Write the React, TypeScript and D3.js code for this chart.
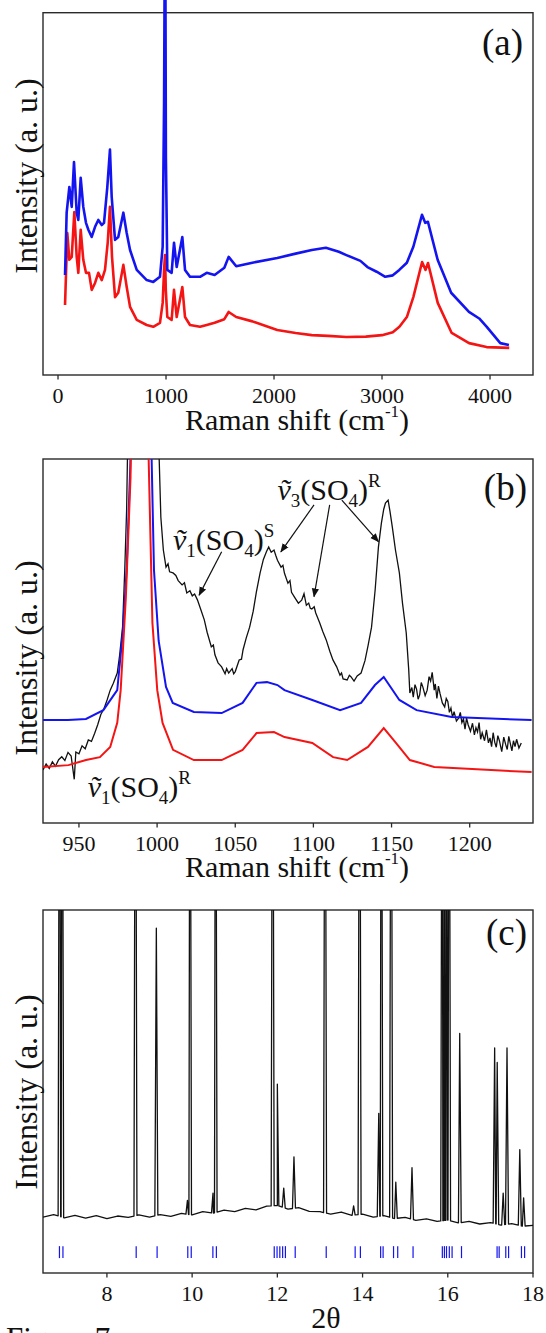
import React from 'react';
import * as d3 from 'd3';

const W = 546;
const H = 1333;
const FONT = 'Liberation Serif';

// ---------- panel (a): full Raman spectra [cm-1, intensity] ----------
const ramanTicksA = [0, 1000, 2000, 3000, 4000];

const ramanBlue: [number, number][] = [
  [65, 27.6], [80, 44.8], [105, 51.9], [127, 46.4], [148, 58.8], [173, 44.8], [188, 42.8],
  [210, 54.4], [234, 46.4], [259, 42.0], [281, 40.1], [312, 38.1], [343, 40.9], [373, 42.8],
  [405, 41.4], [426, 42.0], [456, 51.7], [481, 62.2], [497, 49.2], [528, 37.3], [558, 38.1],
  [605, 44.8], [636, 39.2], [667, 34.5], [729, 29.0], [821, 26.2], [882, 25.7], [944, 27.1],
  [969, 35.4], [982, 75], [988, 115], [994, 115], [999, 60], [1012, 29.0], [1052, 28.2],
  [1074, 36.5], [1099, 29.8], [1151, 38.1], [1176, 29.0], [1222, 27.1], [1315, 27.1],
  [1377, 28.2], [1450, 27.6], [1540, 29.6], [1580, 32.6], [1650, 30.0], [1800, 31.0],
  [2030, 32.3], [2200, 33.5], [2350, 34.5], [2480, 35.1], [2600, 34.0], [2670, 33.1],
  [2800, 31.5], [2865, 29.8], [2950, 28.5], [3030, 27.1], [3100, 27.5], [3160, 29.0],
  [3230, 31.0], [3290, 35.4], [3370, 44.2], [3400, 42.0], [3425, 42.3], [3515, 31.8],
  [3640, 22.7], [3805, 17.4], [3900, 15.6], [3970, 13.3], [4095, 8.8], [4175, 8.3],
];

const ramanRed: [number, number][] = [
  [65, 19.3], [86, 39.2], [105, 31.8], [127, 32.6], [151, 45.0], [173, 32.6], [188, 28.2],
  [210, 40.1], [234, 31.8], [259, 28.2], [287, 28.2], [312, 23.5], [343, 25.4], [373, 28.2],
  [405, 26.2], [435, 29.0], [460, 36.5], [481, 46.4], [500, 32.6], [528, 21.5], [558, 22.7],
  [605, 30.4], [636, 24.3], [667, 18.8], [729, 15.2], [821, 13.8], [882, 13.3], [944, 14.4],
  [969, 19.9], [982, 29], [991, 33.1], [998, 23.5], [1012, 16.0], [1052, 15.2], [1074, 23.5],
  [1099, 16.0], [1151, 24.3], [1176, 16.0], [1222, 13.8], [1315, 13.3], [1377, 13.8],
  [1450, 14.4], [1540, 15.4], [1580, 17.4], [1650, 16.0], [1800, 14.8], [2030, 12.4],
  [2200, 11.6], [2350, 11.0], [2500, 10.8], [2670, 10.5], [2850, 10.6], [3000, 11.0],
  [3100, 11.8], [3161, 13.3], [3230, 16.0], [3290, 21.5], [3371, 31.2], [3403, 29.0],
  [3426, 30.9], [3516, 19.9], [3645, 11.6], [3806, 8.8], [3968, 7.7], [4178, 7.5],
];

// ---------- panel (b): sulfate region ----------
const ramanTicksB = [950, 1000, 1050, 1100, 1150, 1200];

const zoomBlue: [number, number][] = [
  [926.8, 28.3], [943, 28.3], [954.5, 28.6], [965.6, 31.0], [974.5, 36.5], [978, 52],
  [980.5, 69.5], [983, 100], [987, 200], [990, 250], [993, 200], [996.5, 100], [998, 69.5],
  [1001, 50], [1005.7, 37.4], [1010, 33.0], [1023.5, 30.5], [1041.3, 30.2], [1054.7, 33.0],
  [1063.6, 38.5], [1070.3, 38.7], [1077, 37.9], [1081.5, 36.5], [1099.3, 33.8], [1117.1, 31.0],
  [1130.5, 33.0], [1139.4, 37.9], [1145, 40.1], [1155, 33.8], [1166, 31.0], [1188.4, 29.1],
  [1239.6, 28.3],
];

const zoomRed: [number, number][] = [
  [926.8, 15.4], [943.3, 15.9], [954.5, 17.3], [963.4, 18.1], [970, 20.9], [974.5, 27.5],
  [976.7, 36.5], [980, 62], [983, 95], [986, 200], [989, 250], [992, 200], [994.6, 100],
  [997, 55], [1000.1, 36.5], [1003.5, 27.5], [1010.2, 20.1], [1023.5, 17.3], [1041.3, 17.3],
  [1054.7, 20.1], [1063.6, 24.7], [1074.8, 25.0], [1081.5, 23.6], [1099.3, 22.0],
  [1112.6, 18.1], [1121.6, 17.3], [1134.9, 20.9], [1145, 26.1], [1152.8, 22.0],
  [1161.7, 17.3], [1177.3, 15.4], [1210.7, 14.6], [1239.6, 14.0],
];

const zoomBlack: [number, number][] = [
  [927, 14.6], [929, 16.2], [931, 15.0], [933, 16.8], [935, 15.6], [937, 17.4], [939, 18.2],
  [941, 17.2], [943, 19.4], [945, 18.4], [947, 12.0], [948, 19.5], [950, 19.0], [952, 21.2],
  [954, 20.4], [956, 22.8], [958, 22.4], [960, 24.6], [962, 27.0], [964, 29.8], [966, 31.4],
  [968, 33.8], [970, 36.5], [972, 38.4], [974.5, 41.2], [976, 46.0], [977.9, 53.8],
  [979.3, 69.5], [980.5, 86], [981.4, 110], [983, 160], [985, 220], [990, 260], [995, 220],
  [999, 160], [1001, 105], [1002.4, 84], [1004, 75], [1005.7, 70.3], [1007, 71.2], [1008, 69.0],
  [1010.2, 68.7], [1012, 68.0], [1013.5, 66.6], [1016, 65.4], [1017.5, 66.0], [1019, 63.2],
  [1021, 63.8], [1022.5, 62.4], [1024, 62.9], [1025.8, 61.3], [1028, 58.6], [1030.2, 55.8],
  [1032, 52.4], [1034.7, 48.4], [1036, 48.9], [1037, 46.2], [1039, 44.0], [1041.3, 42.9],
  [1043.5, 41.0], [1044.5, 42.4], [1045.8, 41.2], [1048, 42.4], [1049, 41.0], [1050, 41.6],
  [1052.5, 44.8], [1054, 45.0], [1055, 47.6], [1057, 50.8], [1059.2, 53.8], [1061.5, 58.2],
  [1063.5, 63.4], [1065.9, 68.7], [1068, 72.4], [1070, 74.6], [1071.4, 75.8], [1073, 74.4],
  [1074.8, 75.0], [1076, 73.4], [1077, 72.2], [1079.3, 70.3], [1080.5, 70.8], [1081.5, 68.6],
  [1083.7, 65.9], [1085, 66.6], [1086, 63.4], [1088, 62.0], [1090.4, 60.4], [1092.5, 61.2],
  [1094, 63.0], [1095.5, 59.8], [1097, 60.4], [1098, 59.0], [1099, 58.8], [1100.5, 59.4],
  [1101.5, 57.7], [1104, 55.0], [1106, 52.6], [1108.2, 50.3], [1110.5, 47.2], [1112.5, 44.8],
  [1114.9, 42.9], [1117, 40.6], [1118, 41.2], [1119, 39.6], [1121.6, 39.3], [1123, 40.6],
  [1124, 40.2], [1126, 39.0], [1128, 40.4], [1130.5, 41.2], [1133, 44.6], [1135, 48.8],
  [1137.2, 53.8], [1139.5, 64.0], [1141.6, 75.8], [1143.5, 82.4], [1145, 86.2], [1146.1, 87.9],
  [1147.8, 88.7], [1149, 85.6], [1150.5, 81.3], [1152.5, 75.0], [1155, 68.7], [1157, 60.4],
  [1159.4, 52.2], [1161, 42.0], [1161.7, 35.7], [1163, 37.2], [1163.9, 34.6], [1165, 38.0],
  [1166, 36.8], [1167, 34.0], [1168, 35.2], [1169, 38.6], [1170, 37.4], [1171.5, 35.0],
  [1172.8, 36.5], [1174, 40.2], [1175, 39.0], [1176, 41.4], [1177.3, 36.5], [1178, 38.2],
  [1179, 34.2], [1180, 37.6], [1181, 35.6], [1182.5, 33.0], [1184, 31.9], [1185, 34.2],
  [1186, 33.4], [1187, 30.4], [1188, 31.6], [1189, 29.0], [1190, 30.6], [1191.5, 28.0],
  [1192.9, 28.8], [1194, 30.4], [1195, 27.6], [1196, 28.6], [1197, 25.8], [1198, 28.8],
  [1199, 27.0], [1200.5, 25.2], [1201.8, 27.4], [1203, 24.2], [1204, 26.2], [1205, 25.0],
  [1206, 27.6], [1207, 23.0], [1208, 24.8], [1209.5, 22.6], [1210.7, 25.6], [1212, 22.0],
  [1213, 23.4], [1214, 21.0], [1215, 24.8], [1216, 22.2], [1217, 20.8], [1218, 24.0],
  [1219, 22.6], [1220.5, 19.6], [1221.8, 23.6], [1223, 21.6], [1224, 20.2], [1225, 23.8],
  [1226, 21.8], [1227, 19.8], [1228, 22.6], [1229, 21.0], [1230, 23.0], [1231.5, 20.6],
  [1233, 22.0],
];

// annotation arrows [from cm, from I, to cm, to I]
const arrowsB: [number, number, number, number][] = [
  [1041.3, 74.5, 1026.9, 62.6],
  [1100.4, 87.4, 1079.2, 74.5],
  [1110.4, 87.4, 1100.4, 62.2],
  [1118.2, 88.7, 1141.6, 77.3],
];
// labels [cm, I, mode number, site letter]
const labelsB: [number, number, string, string][] = [
  [1010.2, 75.0, '1', 'S'],
  [1077, 88.7, '3', 'R'],
  [955.6, 7.2, '1', 'R'],
];

// ---------- panel (c): XRD ----------
const thetaTicks = [8, 10, 12, 14, 16, 18];

const xrdBase: [number, number][] = [
  [6.5, 15.4], [6.75, 16.1], [7.0, 15.2], [7.25, 15.9], [7.5, 15.1], [7.75, 15.8], [8.0, 15.0],
  [8.25, 15.7], [8.5, 15.3], [8.75, 16.0], [9.0, 15.4], [9.25, 16.1], [9.5, 15.6], [9.75, 16.4],
  [10.0, 16.0], [10.25, 16.9], [10.5, 16.5], [10.75, 17.3], [11.0, 16.9], [11.25, 17.8],
  [11.5, 17.4], [11.75, 18.4], [12.0, 18.6], [12.25, 17.6], [12.5, 18.0], [12.75, 17.0],
  [13.0, 16.9], [13.25, 16.2], [13.5, 16.8], [13.75, 15.9], [14.0, 16.2], [14.25, 15.4],
  [14.5, 15.8], [14.75, 15.0], [15.0, 15.3], [15.25, 14.5], [15.5, 14.9], [15.75, 14.2],
  [16.0, 14.6], [16.25, 13.8], [16.5, 14.2], [16.75, 13.5], [17.0, 13.9], [17.25, 13.2],
  [17.5, 13.6], [17.75, 12.9], [18.0, 13.1],
];

// [2theta, peak intensity]; values above 100 run off the top of the frame
const xrdPeaks: [number, number][] = [
  [6.89, 200], [6.95, 200], [8.67, 200], [9.16, 95], [9.89, 20], [9.95, 200], [10.49, 22],
  [10.55, 200], [11.89, 200], [12.0, 52], [12.15, 23.4], [12.39, 32], [13.12, 200],
  [13.79, 18.5], [13.93, 200], [14.38, 44], [14.44, 200], [14.67, 200], [14.78, 25],
  [15.16, 29], [15.87, 200], [15.92, 200], [15.97, 200], [16.03, 200], [16.28, 66],
  [17.1, 62], [17.16, 58], [17.3, 22], [17.39, 62], [17.69, 34], [17.78, 20.7],
];

const braggPos = [
  6.886, 6.968, 8.687, 9.178, 9.898, 9.979, 10.487, 10.569, 11.927, 11.993, 12.058, 12.124,
  12.189, 12.419, 13.147, 13.826, 13.949, 14.424, 14.482, 14.727, 14.825, 15.185, 15.872,
  15.921, 15.97, 16.036, 16.101, 16.322, 17.157, 17.206, 17.361, 17.427, 17.729, 17.803,
];

const L = 43;
const R = 533;

const xA = d3.scaleLinear().domain([-139, 4398]).range([L, R]);
const yA = d3.scaleLinear().domain([0, 100]).range([375, 12.7]);
const xB = d3.scaleLinear().domain([927, 1240.5]).range([L, R]);
const yB = d3.scaleLinear().domain([0, 100]).range([823, 459]);
const xC = d3.scaleLinear().domain([6.5, 18.0]).range([L, R]);
const yC = d3.scaleLinear().domain([0, 100]).range([1273, 910]);

const BLUE = '#1414f0';
const RED = '#f51414';
const INK = '#111';

function Frame({ top, bottom, ticks, x }: { top: number; bottom: number; ticks: number[]; x: d3.ScaleLinear<number, number> }) {
  return (
    <g>
      <rect x={L} y={top} width={R - L} height={bottom - top} fill="none" stroke="#2a2a2a" strokeWidth={1.4} />
      {ticks.map(t => (
        <g key={t}>
          <line x1={x(t)} x2={x(t)} y1={bottom} y2={bottom + 4.5} stroke="#2a2a2a" strokeWidth={1.3} />
          <text x={x(t)} y={bottom + 28} textAnchor="middle" fontSize={22} fontFamily={FONT} fill={INK}>{t}</text>
        </g>
      ))}
    </g>
  );
}

function YLabel({ cy }: { cy: number }) {
  return (
    <text transform={`translate(37,${cy}) rotate(-90)`} textAnchor="middle" fontSize={32} fontFamily={FONT} fill={INK}>
      Intensity (a. u.)
    </text>
  );
}

function RamanLabel({ y }: { y: number }) {
  return (
    <text x={297} y={y} textAnchor="middle" fontSize={30} fontFamily={FONT} fill={INK}>
      Raman shift (cm<tspan fontSize={17} dy={-13}>-1</tspan><tspan dy={13}>)</tspan>
    </text>
  );
}

function ModeLabel({ x, y, n, site }: { x: number; y: number; n: string; site: string }) {
  return (
    <text x={x} y={y} fontSize={30} fontFamily={FONT} fill={INK}>
      <tspan fontStyle="italic">{'\u1E7D'}</tspan>
      <tspan fontSize={19} dy={7}>{n}</tspan>
      <tspan dy={-7}>(SO</tspan>
      <tspan fontSize={19} dy={7}>4</tspan>
      <tspan dy={-7}>)</tspan>
      <tspan fontSize={19} dy={-13}>{site}</tspan>
    </text>
  );
}

export default function App() {
  const lineA = d3.line<[number, number]>().x(d => xA(d[0])).y(d => yA(d[1]));
  const lineB = d3.line<[number, number]>().x(d => xB(d[0])).y(d => yB(d[1]));
  const lineC = d3.line<[number, number]>().x(d => xC(d[0])).y(d => yC(d[1]));

  // baseline level under each peak, read from the baseline array
  const baseAt = d3.scaleLinear().domain(xrdBase.map(d => d[0])).range(xrdBase.map(d => d[1]));
  const hw = 0.035;
  const xrdPts: [number, number][] = [
    ...xrdBase,
    ...xrdPeaks.flatMap(([p, h]) => [
      [p - hw, baseAt(p - hw)] as [number, number],
      [p, h] as [number, number],
      [p + hw, baseAt(p + hw)] as [number, number],
    ]),
  ].sort((a, b) => a[0] - b[0]);

  return (
    <div style={{ position: 'absolute', left: 0, top: 0 }}>
      <svg width={W} height={H} style={{ display: 'block', background: '#fff' }}>
        <defs>
          <clipPath id="clipB"><rect x={L} y={459} width={R - L} height={823 - 459} /></clipPath>
          <clipPath id="clipC"><rect x={L} y={910} width={R - L} height={1273 - 910} /></clipPath>
          <marker id="arr" viewBox="0 0 10 10" refX={9} refY={5} markerWidth={9} markerHeight={9}
            markerUnits="userSpaceOnUse" orient="auto">
            <path d="M0,1 L10,5 L0,9 Z" fill={INK} />
          </marker>
        </defs>

        {/* (a) */}
        <Frame top={12.7} bottom={375} ticks={ramanTicksA} x={xA} />
        <path d={lineA(ramanRed) || ''} fill="none" stroke={RED} strokeWidth={2.6} strokeLinejoin="round" />
        <path d={lineA(ramanBlue) || ''} fill="none" stroke={BLUE} strokeWidth={2.6} strokeLinejoin="round" />
        <text x={523} y={55} textAnchor="end" fontSize={37} fontFamily={FONT} fill={INK}>(a)</text>
        <YLabel cy={176} />
        <RamanLabel y={430} />

        {/* (b) */}
        <Frame top={459} bottom={823} ticks={ramanTicksB} x={xB} />
        <g clipPath="url(#clipB)">
          <path d={lineB(zoomBlack) || ''} fill="none" stroke={INK} strokeWidth={1.3} />
          <path d={lineB(zoomBlue) || ''} fill="none" stroke={BLUE} strokeWidth={2} />
          <path d={lineB(zoomRed) || ''} fill="none" stroke={RED} strokeWidth={2} />
        </g>
        {arrowsB.map((a, i) => (
          <line key={i} x1={xB(a[0])} y1={yB(a[1])} x2={xB(a[2])} y2={yB(a[3])}
            stroke={INK} strokeWidth={1.2} markerEnd="url(#arr)" />
        ))}
        {labelsB.map((l, i) => (
          <ModeLabel key={i} x={xB(l[0])} y={yB(l[1])} n={l[2]} site={l[3]} />
        ))}
        <text x={527} y={500} textAnchor="end" fontSize={37} fontFamily={FONT} fill={INK}>(b)</text>
        <YLabel cy={658} />
        <RamanLabel y={877} />

        {/* (c) */}
        <Frame top={910} bottom={1273} ticks={thetaTicks} x={xC} />
        <g clipPath="url(#clipC)">
          <path d={lineC(xrdPts) || ''} fill="none" stroke={INK} strokeWidth={1.3} strokeLinejoin="round" />
          {braggPos.map((p, i) => (
            <line key={i} x1={xC(p)} x2={xC(p)} y1={yC(4.1)} y2={yC(7.4)} stroke={BLUE} strokeWidth={1.2} />
          ))}
        </g>
        <text x={527} y={945} textAnchor="end" fontSize={37} fontFamily={FONT} fill={INK}>(c)</text>
        <YLabel cy={1092} />
        <text x={326} y={1328} textAnchor="middle" fontSize={30} fontFamily={FONT} fill={INK}>2θ</text>
        <text x={6} y={1349} fontSize={31} fontFamily={FONT} fill={INK}>Figure 7</text>
      </svg>
    </div>
  );
}
